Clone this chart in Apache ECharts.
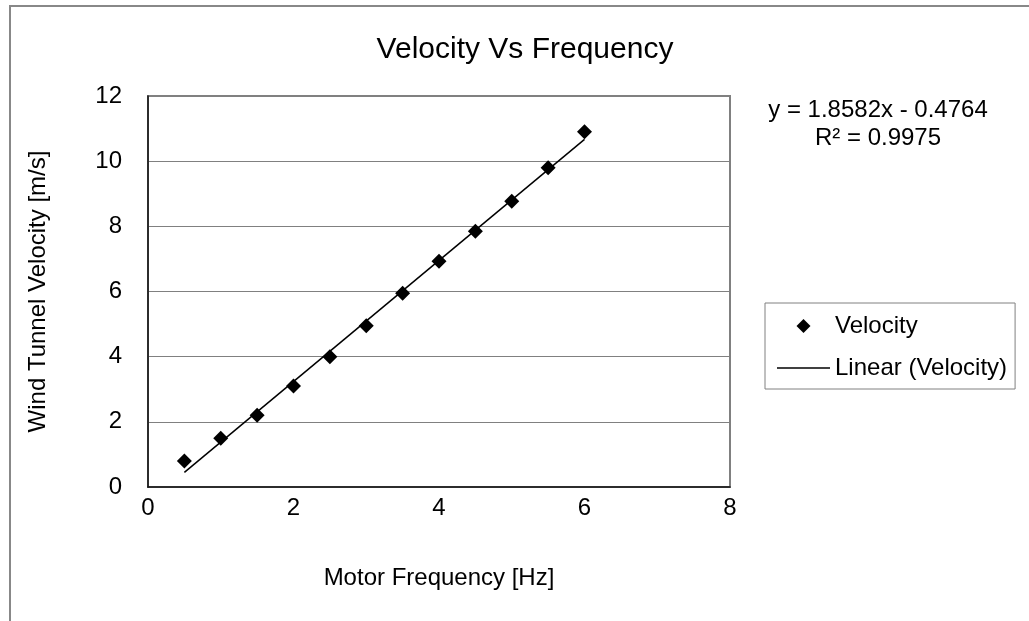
<!DOCTYPE html>
<html>
<head>
<meta charset="utf-8">
<script src="https://cdn.jsdelivr.net/npm/echarts@6/dist/echarts.min.js"></script>
<style>html,body{margin:0;padding:0;background:#fff;}#chart{width:1029px;height:621px;}</style>
</head>
<body>
<div id="chart"></div>
<script>
var frequency = [0.5, 1, 1.5, 2, 2.5, 3, 3.5, 4, 4.5, 5, 5.5, 6];
var velocity = [0.8, 1.5, 2.2, 3.1, 4.0, 4.95, 5.95, 6.93, 7.85, 8.77, 9.8, 10.9];
var trendX = [0.5, 6];
var trendY = [0.45, 10.67];
var equationText = 'y = 1.8582x - 0.4764\nR² = 0.9975';
var titleText = 'Velocity Vs Frequency';
var xName = 'Motor Frequency [Hz]';
var yName = 'Wind Tunnel Velocity [m/s]';

var font = 'Liberation Sans, Arial, sans-serif';
var chart = echarts.init(document.getElementById('chart'), null, {renderer: 'canvas'});
chart.setOption({
  backgroundColor: '#fff',
  animation: false,
  textStyle: {fontFamily: font, color: '#000'},
  title: {
    text: titleText, left: 520, top: 30, textAlign: 'center',
    textStyle: {fontFamily: font, fontSize: 30, fontWeight: 'normal', color: '#000'}
  },
  graphic: [
    {type: 'rect', shape: {x: 10, y: 6, width: 1200, height: 800}, style: {fill: 'none', stroke: '#888', lineWidth: 2}, silent: true, z: -1},
    {type: 'text', x: 878, y: 96, style: {text: equationText, font: '24px ' + font, fill: '#000', align: 'center', verticalAlign: 'top', lineHeight: 28}}
  ],
  legend: {
    orient: 'vertical', left: 765, top: 303,
    padding: [11, 8, 9, 12],
    borderColor: '#808080', borderWidth: 1,
    itemWidth: 53, itemHeight: 14, itemGap: 18,
    symbolKeepAspect: true,
    textStyle: {fontFamily: font, fontSize: 24, color: '#000', lineHeight: 24},
    data: [
      {name: 'Velocity', icon: 'path://M0,-1L1,0L0,1L-1,0Z', itemStyle: {color: '#000'}},
      {name: 'Linear (Velocity)', icon: 'path://M0,0L100,0L100,2.6L0,2.6Z', itemStyle: {color: '#000'}}
    ]
  },
  grid: {left: 148, top: 96, right: 299, bottom: 134, show: true, borderColor: '#808080', borderWidth: 2, backgroundColor: '#fff'},
  xAxis: {
    type: 'value', min: 0, max: 8, interval: 2,
    name: xName, nameLocation: 'middle', nameGap: 79,
    nameTextStyle: {fontFamily: font, fontSize: 24, color: '#000'},
    axisLine: {show: true, lineStyle: {color: '#111', width: 1.5}},
    axisTick: {show: false},
    axisLabel: {fontFamily: font, fontSize: 24, color: '#000', margin: 9},
    splitLine: {show: false}
  },
  yAxis: {
    type: 'value', min: 0, max: 12, interval: 2,
    name: yName, nameLocation: 'middle', nameGap: 98, nameRotate: 90,
    nameTextStyle: {fontFamily: font, fontSize: 24, color: '#000'},
    axisLine: {show: true, lineStyle: {color: '#111', width: 1.5}},
    axisTick: {show: false},
    axisLabel: {fontFamily: font, fontSize: 24, color: '#000', margin: 26},
    splitLine: {show: true, lineStyle: {color: '#808080', width: 1}}
  },
  series: [
    {
      name: 'Velocity', type: 'scatter', symbol: 'diamond', symbolSize: 15,
      itemStyle: {color: '#000', opacity: 1},
      data: frequency.map(function (f, i) { return [f, velocity[i]]; }),
      z: 3
    },
    {
      name: 'Linear (Velocity)', type: 'line', symbol: 'none',
      lineStyle: {color: '#000', width: 1.5},
      itemStyle: {color: '#000'},
      data: trendX.map(function (x, i) { return [x, trendY[i]]; }),
      z: 2
    }
  ]
});
</script>
</body>
</html>
